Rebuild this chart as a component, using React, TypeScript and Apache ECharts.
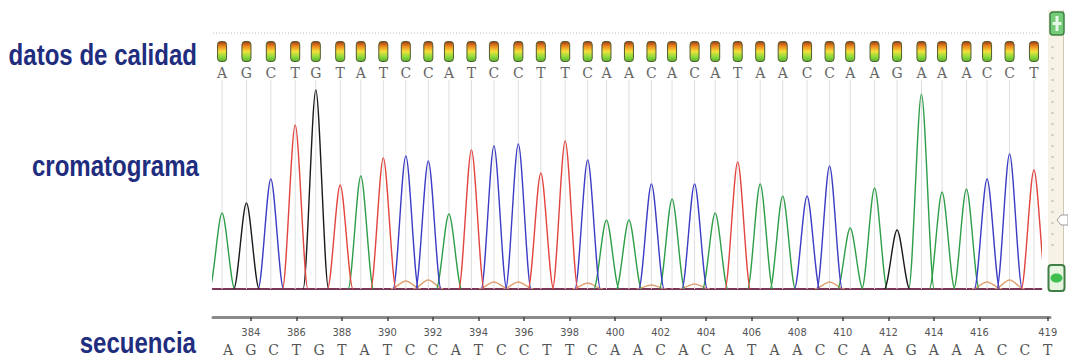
import React, { useEffect, useRef } from "react";
import * as echarts from "echarts";

// ---- data ----
const SEQ = "AGCTGTATCCATCCTTCAACACATAACCAAGAAACCT".split("");
const FIRST_POS = 383;
const SEQ_POSITIONS = SEQ.map((_, i) => FIRST_POS + i);
// trace scan position of every called peak
const PEAK_SCANS = [
  4705, 4718, 4731, 4744, 4755, 4768, 4779, 4791, 4803, 4815, 4826, 4838, 4850,
  4863, 4875, 4888, 4900, 4910, 4922, 4934, 4945, 4957, 4968, 4980, 4992, 5004,
  5017, 5029, 5040, 5053, 5065, 5078, 5089, 5102, 5113, 5125, 5138,
];
// signal intensity at every called peak
const PEAK_HEIGHTS = [
  760, 860, 1100, 1640, 1990, 1040, 1130, 1310, 1330, 1280, 750, 1390, 1430,
  1450, 1160, 1480, 1290, 690, 690, 1050, 900, 1050, 760, 1270, 1050, 930, 930,
  1230, 610, 1010, 590, 1950, 970, 1000, 1100, 1350, 1190,
];
// quality value per base call
const QUALITY = [
  40, 40, 40, 40, 40, 40, 40, 40, 40, 40, 40, 40, 40, 40, 40, 40, 40, 40, 40,
  40, 40, 40, 40, 40, 40, 40, 40, 40, 40, 40, 40, 40, 40, 40, 40, 40, 40,
];
// small secondary signal under the main trace
const MINOR_SCANS = [4803, 4815, 4850, 4863, 4900, 4934, 4957, 5029, 5113, 5125];
const MINOR_HEIGHTS = [80, 90, 70, 70, 60, 40, 50, 70, 70, 90];
const RULER_TICKS = [
  384, 386, 388, 390, 392, 394, 396, 398, 400, 402, 404, 406, 408, 410, 412,
  414, 416, 419,
];
const BASES = ["A", "C", "G", "T"];
const BASE_COLORS: Record<string, string> = {
  A: "#2f9e48",
  C: "#3c3cc4",
  G: "#1a1a1a",
  T: "#e2453f",
};

const LABEL_COLOR = "#1f2d7f";
const SCAN_MIN = 4700;
const SCAN_MAX = 5142;
const HALF_WIDTH = 6.8; // scans

function peakItem(color: string, half: number, lw: number) {
  return (_params: any, api: any) => {
    const pos = api.value(0);
    const h = api.value(1);
    const [xp, yp] = api.coord([pos, h]);
    const [xl, y0] = api.coord([pos - half, 0]);
    const [xr] = api.coord([pos + half, 0]);
    const wl = xp - xl;
    const wr = xr - xp;
    const style = { stroke: color, fill: "none", lineWidth: lw };
    return {
      type: "group",
      children: [
        {
          type: "bezierCurve",
          shape: {
            x1: xl, y1: y0,
            cpx1: xl + wl * 0.32, cpy1: y0,
            cpx2: xp - wl * 0.3, cpy2: yp,
            x2: xp, y2: yp,
          },
          style,
        },
        {
          type: "bezierCurve",
          shape: {
            x1: xp, y1: yp,
            cpx1: xp + wr * 0.3, cpy1: yp,
            cpx2: xr - wr * 0.32, cpy2: y0,
            x2: xr, y2: y0,
          },
          style,
        },
      ],
    };
  };
}

function sideLabel(text: string, x: number, y: number) {
  return {
    type: "text",
    x,
    y,
    scaleX: 0.83,
    style: {
      text,
      align: "right",
      verticalAlign: "middle",
      fontFamily: "Liberation Sans, Arial, sans-serif",
      fontWeight: "bold",
      fontSize: 29,
      fill: LABEL_COLOR,
    },
  };
}

export default function App() {
  const ref = useRef<HTMLDivElement>(null);
  useEffect(() => {
    document.body.style.margin = "0";
    if (!ref.current) return;
    const chart = echarts.init(ref.current, undefined, { renderer: "svg" });

    const traceSeries = BASES.map((b) => ({
      type: "custom",
      name: b,
      xAxisIndex: 1,
      yAxisIndex: 1,
      clip: true,
      z: 5,
      silent: true,
      renderItem: peakItem(BASE_COLORS[b], HALF_WIDTH, 1.4),
      data: PEAK_SCANS.map((s, i) => [s, PEAK_HEIGHTS[i], SEQ[i]]).filter(
        (d) => d[2] === b
      ),
    }));

    const scrollTicks: any[] = [];
    for (let y = 47; y <= 254; y += 11) {
      scrollTicks.push({
        type: "line",
        shape: { x1: 1051, y1: y, x2: 1054, y2: y },
        style: { stroke: "#b8b49c", lineWidth: 1 },
      });
    }

    const option: any = {
      animation: false,
      backgroundColor: "#ffffff",
      grid: [
        { left: 212.7, width: 828.75, top: 41, height: 21 },
        { left: 212.7, width: 828.75, top: 89, height: 200 },
        { left: 213, width: 837, top: 300, height: 17 },
      ],
      xAxis: [
        {
          gridIndex: 0,
          type: "value",
          min: SCAN_MIN,
          max: SCAN_MAX,
          axisLine: { show: false },
          axisTick: { show: false },
          splitLine: { show: false },
          axisLabel: {
            customValues: PEAK_SCANS,
            formatter: (v: number) => SEQ[PEAK_SCANS.indexOf(v)],
            margin: 4,
            fontFamily: "DejaVu Serif",
            fontSize: 14,
            color: "#666",
          },
        },
        {
          gridIndex: 1,
          type: "value",
          min: SCAN_MIN,
          max: SCAN_MAX,
          axisLine: { show: true, lineStyle: { color: "#7a3656", width: 1.8 } },
          axisTick: { show: false },
          axisLabel: { show: false },
          splitLine: { show: false },
        },
        {
          gridIndex: 2,
          type: "value",
          min: 382.34,
          max: 419.1,
          position: "bottom",
          axisLine: { show: true, lineStyle: { color: "#8a8a8a", width: 3 } },
          axisTick: {
            show: true,
            customValues: RULER_TICKS,
            length: 4,
            lineStyle: { color: "#444", width: 1.5 },
          },
          axisLabel: {
            customValues: RULER_TICKS,
            margin: 10,
            fontFamily: "DejaVu Sans Condensed, Liberation Sans, sans-serif",
            fontSize: 11,
            color: "#555",
          },
          splitLine: { show: false },
        },
        {
          gridIndex: 2,
          type: "value",
          min: 382.34,
          max: 419.1,
          position: "bottom",
          offset: 18,
          axisLine: { show: false },
          axisTick: { show: false },
          axisLabel: {
            customValues: SEQ_POSITIONS,
            formatter: (v: number) => SEQ[v - FIRST_POS],
            margin: 8,
            fontFamily: "DejaVu Serif",
            fontSize: 14,
            color: "#555",
          },
          splitLine: { show: false },
        },
      ],
      yAxis: [
        { gridIndex: 0, type: "value", min: 0, max: 40, show: false },
        { gridIndex: 1, type: "value", min: 0, max: 2000, show: false },
        { gridIndex: 2, type: "value", min: 0, max: 1, show: false },
      ],
      series: [
        {
          type: "custom",
          name: "guides",
          xAxisIndex: 1,
          yAxisIndex: 1,
          silent: true,
          z: 1,
          renderItem: (_p: any, api: any) => {
            const [x, y0] = api.coord([api.value(0), 0]);
            const [, yt] = api.coord([api.value(0), 2090]);
            return {
              type: "line",
              shape: { x1: x, y1: y0, x2: x, y2: yt },
              style: { stroke: "#dedede", lineWidth: 1 },
            };
          },
          data: PEAK_SCANS.map((s) => [s]),
        },
        {
          type: "bar",
          name: "calidad",
          xAxisIndex: 0,
          yAxisIndex: 0,
          barWidth: 10,
          silent: true,
          itemStyle: {
            borderRadius: 3,
            borderColor: "#4f5a2c",
            borderWidth: 1,
            color: new echarts.graphic.LinearGradient(0, 0, 0, 1, [
              { offset: 0, color: "#9a3a18" },
              { offset: 0.25, color: "#ee8a1e" },
              { offset: 0.5, color: "#f3e03c" },
              { offset: 0.75, color: "#92dc3c" },
              { offset: 1, color: "#58b22e" },
            ]),
          },
          data: PEAK_SCANS.map((s, i) => [s, QUALITY[i]]),
        },
        {
          type: "custom",
          name: "minor",
          xAxisIndex: 1,
          yAxisIndex: 1,
          clip: true,
          z: 3,
          silent: true,
          renderItem: peakItem("#e0a070", 8, 1.4),
          data: MINOR_SCANS.map((s, i) => [s, MINOR_HEIGHTS[i]]),
        },
        ...traceSeries,
      ],
      graphic: [
        {
          type: "line",
          shape: { x1: 213, y1: 33, x2: 1041, y2: 33 },
          style: { stroke: "#bdbdbd", lineWidth: 1, lineDash: [1, 2] },
        },
        sideLabel("datos de calidad", 197, 55),
        sideLabel("cromatograma", 199, 166),
        sideLabel("secuencia", 196, 343),
        // scroll bar on the right
        {
          type: "rect",
          shape: { x: 1048, y: 10, width: 15, height: 282 },
          style: { fill: "#f6f3e6" },
        },
        {
          type: "line",
          shape: { x1: 1063.5, y1: 10, x2: 1063.5, y2: 292 },
          style: { stroke: "#cdc9b4", lineWidth: 1 },
        },
        ...scrollTicks,
        {
          type: "rect",
          shape: { x: 1050, y: 12, width: 14, height: 23, r: 3 },
          style: { fill: "#74cc78", stroke: "#3f7f45", lineWidth: 1.5 },
        },
        {
          type: "rect",
          shape: { x: 1055.5, y: 16, width: 3, height: 15 },
          style: { fill: "#e8f8e8" },
        },
        {
          type: "rect",
          shape: { x: 1052.5, y: 22, width: 9, height: 3 },
          style: { fill: "#e8f8e8" },
        },
        {
          type: "polygon",
          shape: {
            points: [
              [1057, 220],
              [1061, 215],
              [1068, 215],
              [1068, 225],
              [1061, 225],
            ],
          },
          style: { fill: "#ffffff", stroke: "#9a9a9a", lineWidth: 1 },
        },
        {
          type: "rect",
          shape: { x: 1048.5, y: 265, width: 16, height: 26, r: 3 },
          style: { fill: "#e6f4e0", stroke: "#3f7f45", lineWidth: 2 },
        },
        {
          type: "ellipse",
          shape: { cx: 1056.5, cy: 278, rx: 6, ry: 4.5 },
          style: { fill: "#3fbf50" },
        },
      ],
    };
    chart.setOption(option);
    return () => chart.dispose();
  }, []);
  return <div ref={ref} style={{ width: 1068, height: 360 }} />;
}
